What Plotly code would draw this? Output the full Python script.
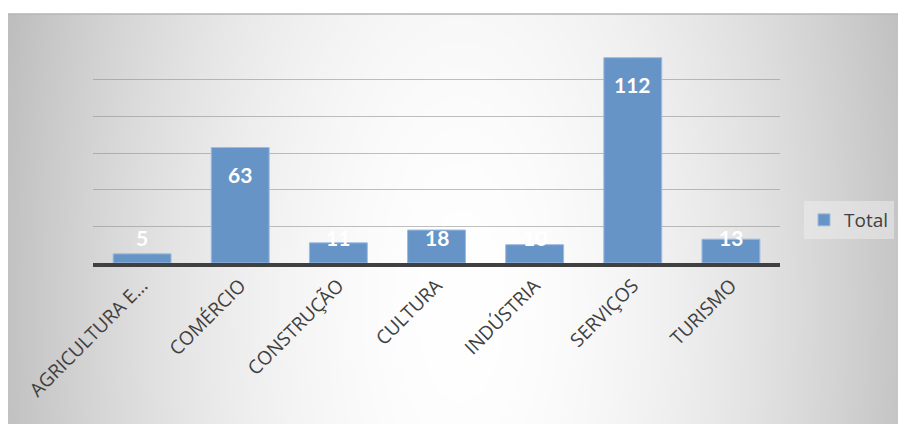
import base64, struct, zlib
import numpy as np
import plotly.graph_objects as go

categories = ["AGRICULTURA E...", "COMÉRCIO", "CONSTRUÇÃO", "CULTURA", "INDÚSTRIA", "SERVIÇOS", "TURISMO"]
values = [5, 63, 11, 18, 10, 112, 13]
series_name = "Total"
y_ticks = [0, 20, 40, 60, 80, 100, 120]

# --- radial gray gradient background as a PNG data URI ---
def make_png(arr):
    h, w = arr.shape
    raw = b"".join(b"\x00" + arr[i].astype(np.uint8).tobytes() for i in range(h))
    def chunk(t, d):
        c = struct.pack(">I", len(d)) + t + d
        return c + struct.pack(">I", zlib.crc32(t + d) & 0xffffffff)
    png = b"\x89PNG\r\n\x1a\n"
    png += chunk(b"IHDR", struct.pack(">IIBBBBB", w, h, 8, 0, 0, 0, 0))
    png += chunk(b"IDAT", zlib.compress(raw, 9))
    png += chunk(b"IEND", b"")
    return "data:image/png;base64," + base64.b64encode(png).decode()

W, H = 300, 137
yy, xx = np.mgrid[0:H, 0:W]
dx = (xx / (W - 1) - 0.5) / 0.5
dy = (yy / (H - 1) - 0.7) / 2.3
d = np.sqrt(dx**2 + dy**2)
img = 255 - 60 * np.clip(d, 0, 1.2) ** 1.8
img = np.clip(img, 185, 255)
bg_uri = make_png(img)

fig = go.Figure()
fig.add_trace(go.Bar(
    x=categories, y=values, name=series_name,
    marker=dict(color="#6794C7", line=dict(color="#9DBBE0", width=1)),
    showlegend=True,
))

# data labels (inside end; clamped for short bars)
for c, v in zip(categories, values):
    fig.add_annotation(
        x=c, y=max(v - 14.7, 13.7), text="<b>%d</b>" % v, showarrow=False,
        font=dict(family="Lato, Noto Sans, sans-serif", size=21, color="white"),
        xref="x", yref="y",
    )

# page body has an 8px offset; figure coordinates compensate
OFF = 8
L, R, T, B = 93 - OFF, 906 - 780 + OFF, 43 - OFF, 424 - 263 + OFF
pw, ph = 906 - L - R, 424 - T - B
gx0, gy0 = 8 - OFF, 14 - OFF  # top-left of grey chart area in figure px
fig.add_layout_image(dict(
    source=bg_uri, xref="paper", yref="paper",
    x=(gx0 - L) / pw, y=(424 - B - gy0) / ph,
    sizex=(906 - gx0) / pw, sizey=(424 - gy0) / ph,
    xanchor="left", yanchor="top", sizing="stretch", layer="below",
))
fig.add_shape(type="line", xref="paper", yref="paper",
              x0=(gx0 - L) / pw, x1=(906 - L) / pw,
              y0=(424 - B - gy0) / ph, y1=(424 - B - gy0) / ph,
              line=dict(color="#b4b4b4", width=1.5), layer="below")

fig.update_layout(
    width=906, height=424,
    margin=dict(l=L, r=R, t=T, b=B),
    paper_bgcolor="white", plot_bgcolor="rgba(0,0,0,0)",
    bargap=0.41,
    font=dict(family="Open Sans, Lato, sans-serif", color="#404040"),
    legend=dict(
        x=(804 - OFF - L) / pw, y=(263 - 220) / ph, xanchor="left", yanchor="middle",
        bgcolor="rgba(240,240,240,0.5)", font=dict(size=19, color="#404040"),
        itemwidth=30, borderwidth=0,
    ),
    xaxis=dict(
        tickangle=-45, tickfont=dict(family="Open Sans, sans-serif", size=19, color="#404040"),
        showline=True, linecolor="#404040", linewidth=4,
        showgrid=False, ticks="",
    ),
    yaxis=dict(
        range=[0, 120], tickvals=y_ticks, showticklabels=False,
        showgrid=True, gridcolor="rgba(140,140,140,0.55)", gridwidth=1,
        zeroline=False, showline=False,
    ),
)

fig.write_html("out.html")
